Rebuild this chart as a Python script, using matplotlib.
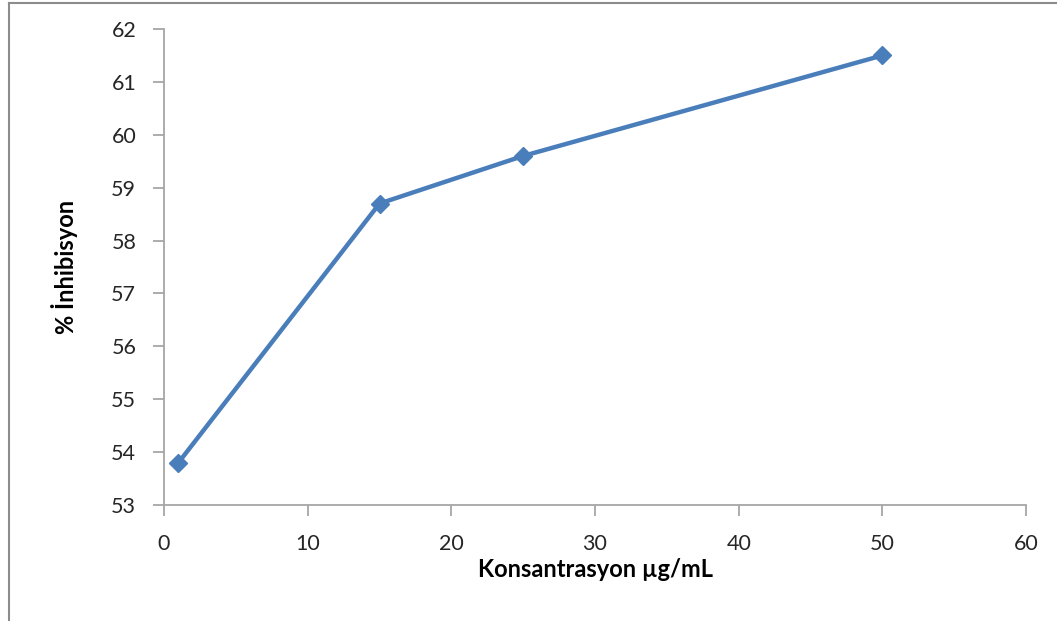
import matplotlib
matplotlib.use("Agg")
import matplotlib.pyplot as plt
from matplotlib.lines import Line2D

# concentration (ug/mL) vs % inhibition
konsantrasyon = [1, 15, 25, 50]
inhibisyon = [53.8, 58.7, 59.6, 61.5]

plt.rcParams['font.family'] = ['Lato', 'DejaVu Sans']

fig = plt.figure(figsize=(10.57, 6.21), dpi=100)
ax = fig.add_axes([0.1552, 0.1868, 0.8155, 0.7665])

# chart area border (left and top edges visible)
fig.add_artist(Line2D([0.0085, 0.0085], [0, 0.995], color='#8c8c8c', lw=1.5, transform=fig.transFigure))
fig.add_artist(Line2D([0.0085, 1.0], [0.995, 0.995], color='#8c8c8c', lw=1.5, transform=fig.transFigure))

ax.plot(konsantrasyon, inhibisyon, color='#4a7ebb', lw=3.2, marker='D',
        markersize=9, markerfacecolor='#4a7ebb', markeredgecolor='#4a7ebb',
        clip_on=False, zorder=3)

ax.set_xlim(0, 60)
ax.set_ylim(53, 62)
ax.set_xticks(range(0, 61, 10))
ax.set_yticks(range(53, 63))

for side in ('top', 'right'):
    ax.spines[side].set_visible(False)
for side in ('left', 'bottom'):
    ax.spines[side].set_color('#a6a6a6')
    ax.spines[side].set_linewidth(1.3)

ax.tick_params(axis='both', direction='out', length=8, width=1.3, color='#a6a6a6',
               labelsize=15.5, labelcolor='#262626')
ax.tick_params(axis='y', pad=12)
ax.tick_params(axis='x', pad=13)

ax.set_xlabel('Konsantrasyon µg/mL', fontsize=17, fontweight='bold', labelpad=3)
ax.set_ylabel('% İnhibisyon', fontsize=17, fontweight='bold', labelpad=24)

fig.savefig('out.png', dpi=100)
